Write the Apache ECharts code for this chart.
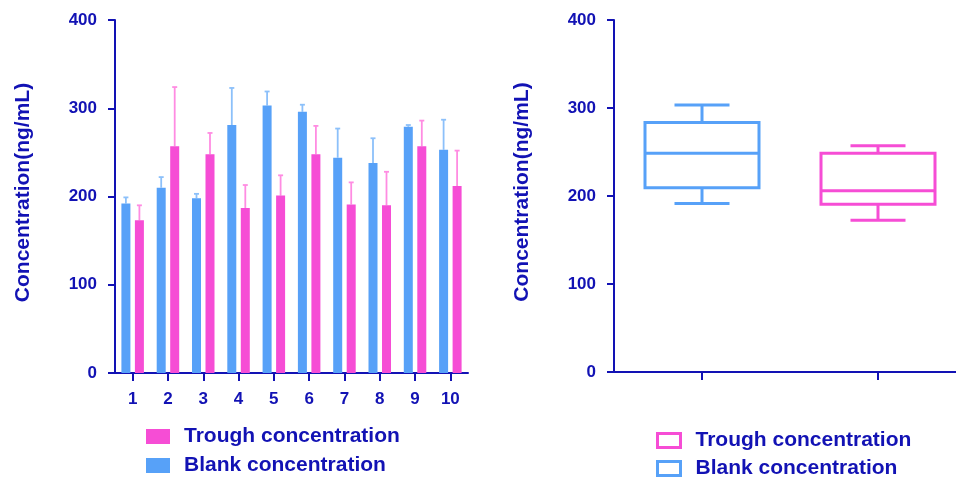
<!DOCTYPE html>
<html><head><meta charset="utf-8">
<script src="https://cdn.jsdelivr.net/npm/echarts@6/dist/echarts.min.js"></script>
<style>html,body{margin:0;padding:0;background:#fff}#c{width:956px;height:478px}</style>
</head><body><div id="c"></div>
<script>
// ---- data ----
const subjects = ['1','2','3','4','5','6','7','8','9','10'];
const blankMean = [192, 210, 198, 281, 303, 296, 244, 238, 279, 253];
const blankUpper = [199, 222, 203, 323, 319, 304, 277, 266, 281, 287];
const troughMean = [173, 257, 248, 187, 201, 248, 191, 190, 257, 212];
const troughUpper = [190, 324, 272, 213, 224, 280, 216, 228, 286, 252];
const yTicks = [0, 100, 200, 300, 400];
const boxCats = ['Blank concentration', 'Trough concentration'];
// [min, q1, median, q3, max]
const blankBox = [191.5, 209.5, 248.5, 283.5, 303.5];
const troughBox = [172.5, 190.5, 206, 248.5, 257];

const C_TEXT = '#1212B4';
const C_BLUE = '#57A1F8';
const C_PINK = '#F64DD5';
const C_BLUE_E = '#8CC0FA';
const C_PINK_E = '#FF8CE2';
const FONT = '"Liberation Sans", Arial, sans-serif';

const chart = echarts.init(document.getElementById('c'), null, {renderer: 'canvas'});

function yAxisCfg(gridIndex) {
  return {
    type: 'value', gridIndex, min: 0, max: 400, interval: 100,
    name: 'Concentration(ng/mL)', nameLocation: 'middle', nameGap: 81,
    nameTextStyle: {color: C_TEXT, fontSize: 21, fontWeight: 'bold', fontFamily: FONT, padding: [0, 0, 0, 8]},
    axisLine: {show: true, lineStyle: {color: C_TEXT, width: 2}},
    axisTick: {show: true, length: 7, lineStyle: {color: C_TEXT, width: 2}},
    axisLabel: {color: C_TEXT, fontSize: 17, fontWeight: 'bold', fontFamily: FONT, margin: 18},
    splitLine: {show: false}
  };
}

function errorSeries(name, means, uppers, color, offset) {
  return {
    type: 'custom', name, xAxisIndex: 0, yAxisIndex: 0, z: 1,
    data: means.map((m, i) => [i, m, uppers[i]]),
    renderItem: function (params, api) {
      const p0 = api.coord([api.value(0), api.value(1)]);
      const p1 = api.coord([api.value(0), api.value(2)]);
      const x = p0[0] + offset;
      return {
        type: 'group',
        children: [
          {type: 'line', shape: {x1: x, y1: p0[1], x2: x, y2: p1[1]}, style: {stroke: color, lineWidth: 1.8}},
          {type: 'line', shape: {x1: x - 2.5, y1: p1[1], x2: x + 2.5, y2: p1[1]}, style: {stroke: color, lineWidth: 1.8}}
        ]
      };
    }
  };
}

function boxSeries(name, idx, stats, color) {
  return {
    type: 'custom', name, xAxisIndex: 1, yAxisIndex: 1,
    itemStyle: {color: color},
    data: [[idx].concat(stats)],
    renderItem: function (params, api) {
      const c = api.value(0);
      const pMin = api.coord([c, api.value(1)]);
      const pQ1 = api.coord([c, api.value(2)]);
      const pMed = api.coord([c, api.value(3)]);
      const pQ3 = api.coord([c, api.value(4)]);
      const pMax = api.coord([c, api.value(5)]);
      const x = pMed[0];
      const hw = 57, cw = 27.5;
      const st = {stroke: color, lineWidth: 3, fill: null};
      return {
        type: 'group',
        children: [
          {type: 'rect', shape: {x: x - hw, y: pQ3[1], width: 2 * hw, height: pQ1[1] - pQ3[1]}, style: {stroke: color, lineWidth: 3, fill: 'rgba(0,0,0,0)'}},
          {type: 'line', shape: {x1: x - hw, y1: pMed[1], x2: x + hw, y2: pMed[1]}, style: st},
          {type: 'line', shape: {x1: x, y1: pQ3[1], x2: x, y2: pMax[1]}, style: st},
          {type: 'line', shape: {x1: x, y1: pQ1[1], x2: x, y2: pMin[1]}, style: st},
          {type: 'line', shape: {x1: x - cw, y1: pMax[1], x2: x + cw, y2: pMax[1]}, style: st},
          {type: 'line', shape: {x1: x - cw, y1: pMin[1], x2: x + cw, y2: pMin[1]}, style: st}
        ]
      };
    }
  };
}

const legendText = {color: C_TEXT, fontSize: 21, fontWeight: 'bold', fontFamily: FONT, padding: [0, 0, 0, 9]};
const legendText2 = {color: C_TEXT, fontSize: 21, fontWeight: 'bold', fontFamily: FONT, padding: [0, 0, 0, 10]};

function legendOne(name, left, top, w, h, itemStyle, ts, fmt) {
  const l = {
    left: left, top: top, itemWidth: w, itemHeight: h, padding: 0,
    textStyle: ts,
    data: [{name: name, icon: 'rect', itemStyle: itemStyle}]
  };
  if (fmt) l.formatter = fmt;
  return l;
}
const trim = function (n) { return n.trim(); };

chart.setOption({
  animation: false,
  backgroundColor: '#fff',
  grid: [
    {left: 115, top: 20, width: 353, height: 353, outerBoundsMode: 'none', containLabel: false},
    {left: 614, top: 20, width: 352, height: 352, outerBoundsMode: 'none', containLabel: false}
  ],
  legend: [
    legendOne('Trough concentration', 146, 426, 24, 15, {color: C_PINK}, legendText),
    legendOne('Blank concentration', 146, 455, 24, 15, {color: C_BLUE}, legendText),
    legendOne('Trough concentration ', 656, 430, 23, 14, {color: '#fff', borderColor: C_PINK, borderWidth: 3}, legendText2, trim),
    legendOne('Blank concentration ', 656, 458, 23, 14, {color: '#fff', borderColor: C_BLUE, borderWidth: 3}, legendText2, trim)
  ],
  xAxis: [
    {
      type: 'category', gridIndex: 0, data: subjects, boundaryGap: true,
      axisLine: {show: true, lineStyle: {color: C_TEXT, width: 2}},
      axisTick: {show: true, alignWithLabel: true, length: 8, lineStyle: {color: C_TEXT, width: 2}},
      axisLabel: {color: C_TEXT, fontSize: 17, fontWeight: 'bold', fontFamily: FONT, margin: 18}
    },
    {
      type: 'category', gridIndex: 1, data: boxCats, boundaryGap: true,
      axisLine: {show: true, lineStyle: {color: C_TEXT, width: 2}},
      axisTick: {show: true, alignWithLabel: true, length: 8, lineStyle: {color: C_TEXT, width: 2}},
      axisLabel: {show: false}
    }
  ],
  yAxis: [yAxisCfg(0), yAxisCfg(1)],
  series: [
    {type: 'bar', name: 'Blank concentration', xAxisIndex: 0, yAxisIndex: 0, data: blankMean,
      barWidth: 9, barGap: '50%', z: 2, itemStyle: {color: C_BLUE}},
    {type: 'bar', name: 'Trough concentration', xAxisIndex: 0, yAxisIndex: 0, data: troughMean,
      barWidth: 9, barGap: '50%', z: 2, itemStyle: {color: C_PINK}},
    errorSeries('Blank SD', blankMean, blankUpper, C_BLUE_E, -6.75),
    errorSeries('Trough SD', troughMean, troughUpper, C_PINK_E, 6.75),
    boxSeries('Blank concentration ', 0, blankBox, C_BLUE),
    boxSeries('Trough concentration ', 1, troughBox, C_PINK)
  ]
});
</script></body></html>
